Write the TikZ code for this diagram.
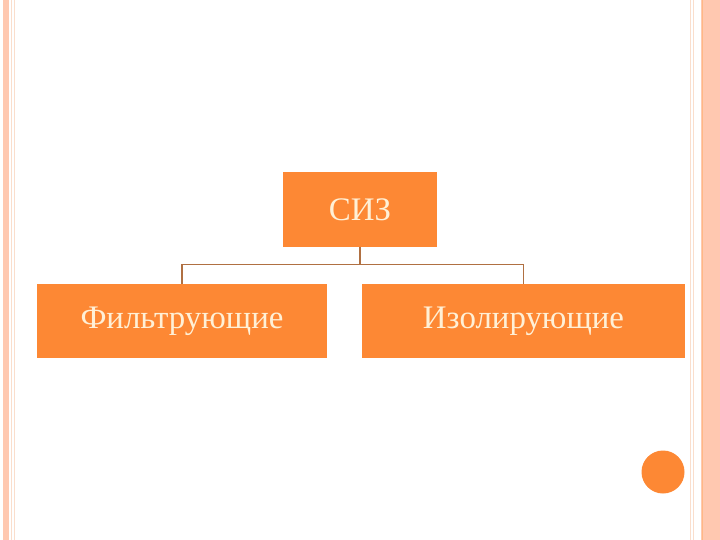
\documentclass[tikz,border=0pt]{standalone}
\usepackage{fontspec}
\setmainfont{Liberation Serif}
\usetikzlibrary{calc}
\definecolor{sizorange}{RGB}{253,136,52}
\definecolor{sizcream}{RGB}{255,240,214}
\definecolor{sizbrown}{RGB}{176,112,66}
\definecolor{sizpeach}{RGB}{255,200,176}
\definecolor{sizpale}{RGB}{250,222,204}
\begin{document}
\begin{tikzpicture}[x=1bp,y=-1bp,
  box/.style={fill=sizorange,text=sizcream,minimum height=74bp,inner sep=0pt,font=\fontsize{33}{38}\selectfont},
  link/.style={draw=sizbrown,line width=1.3bp}]
\useasboundingbox (0,0) rectangle (720,540);
% page frame
\fill[sizpeach] (3,0) rectangle (9,540);
\draw[sizpale,line width=0.8bp] (11.5,0)--(11.5,540) (14.5,0)--(14.5,540);
\draw[sizpale,line width=1bp] (690,0)--(690,540) (693.5,0)--(693.5,540);
\fill[sizpeach] (701,0) rectangle (720,540);
\draw[sizorange!60,line width=0.8bp] (702,0)--(702,540);
% boxes
\node[box,minimum width=154bp] (siz) at (360,209.5) {СИЗ};
\node[box,minimum width=290bp] (filt) at (182,321) {Фильтрующие};
\node[box,minimum width=323bp] (izol) at (523.5,321) {Изолирующие};
\coordinate (fork) at ($(siz.south)+(0,18)$);
\draw[link] (siz.south)--(fork) -| (filt.north);
\draw[link] (fork) -| (izol.north);
\fill[sizorange] (663,472) circle (21.5bp);
\end{tikzpicture}
\end{document}
